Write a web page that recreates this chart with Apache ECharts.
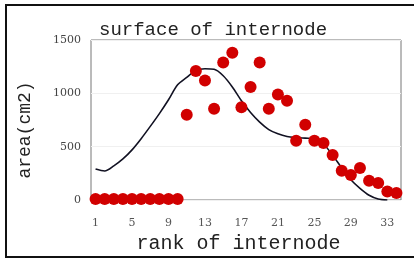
<!DOCTYPE html>
<html lang="en">
<head>
    <meta charset="UTF-8">
    <title>surface of internode</title>
    <script type="text/javascript" src="https://cdn.jsdelivr.net/npm/echarts@6/dist/echarts.min.js"></script>
</head>
<body style="margin:0;background:#fff;">
<div id="main" style="width: 415px;height: 260px;"></div>

<script type="text/javascript">

    // rank of internode 1..34
    var ranks = [];
    for (var i = 1; i <= 34; i++) ranks.push(String(i));

    // measured surface (red dots)
    var areaMeasured = [10, 10, 10, 10, 10, 10, 10, 10, 10, 10,
        800, 1210, 1120, 855, 1290, 1380, 870, 1060, 1290, 855,
        990, 930, 555, 705, 555, 535, 422, 275, 235, 300,
        180, 160, 80, 65];

    // fitted curve (black line)
    var areaCurve = [290, 272, 320, 385, 470, 575, 690, 810, 940, 1080,
        1150, 1215, 1230, 1225, 1165, 1060, 930, 820, 730, 660,
        620, 595, 585, 580, 575, 525, 420, 300, 190, 110,
        45, 10, 0, null];

    var yTicks = [0, 500, 1000, 1500];

    var chart = echarts.init(document.getElementById('main'));

    var option = {
        animation: false,
        backgroundColor: '#fff',
        title: {
            text: 'surface of internode',
            left: 94,
            top: 15,
            textStyle: {
                fontFamily: 'Liberation Mono',
                fontWeight: 'normal',
                fontSize: 19,
                color: '#222'
            }
        },
        graphic: [{
            type: 'polyline',
            shape: {points: [[414, 5], [6, 5], [6, 257], [414, 257]]},
            style: {stroke: '#111', lineWidth: 2, fill: null}
        }],
        grid: {
            left: 91,
            right: 14,
            top: 40,
            bottom: 60,
            show: true,
            borderColor: '#777',
            borderWidth: 1
        },
        xAxis: {
            type: 'category',
            data: ranks,
            boundaryGap: true,
            name: 'rank of internode',
            nameLocation: 'middle',
            nameGap: 32,
            nameTextStyle: {
                fontFamily: 'Liberation Mono',
                fontSize: 20,
                color: '#222',
                padding: [0, 15, 0, 0]
            },
            axisLine: {show: false},
            axisTick: {show: false},
            axisLabel: {
                interval: 3,
                margin: 18,
                fontFamily: 'DejaVu Serif',
                fontSize: 11,
                color: '#555'
            },
            splitLine: {show: false}
        },
        yAxis: {
            type: 'value',
            min: yTicks[0],
            max: yTicks[yTicks.length - 1],
            interval: 500,
            name: 'area(cm2)',
            nameLocation: 'middle',
            nameGap: 57,
            nameTextStyle: {
                fontFamily: 'Liberation Mono',
                fontSize: 18,
                color: '#222',
                padding: [0, 20, 0, 0]
            },
            axisLine: {show: false},
            axisTick: {show: false},
            axisLabel: {
                margin: 10,
                fontFamily: 'DejaVu Serif',
                fontSize: 11,
                color: '#444',
                formatter: function (v) { return String(v); }
            },
            splitLine: {lineStyle: {color: '#f0f0f0'}}
        },
        series: [
            {
                name: 'curve',
                type: 'line',
                data: areaCurve,
                smooth: 0.3,
                showSymbol: false,
                lineStyle: {color: '#111122', width: 1.6},
                z: 3
            },
            {
                name: 'measured',
                type: 'scatter',
                data: areaMeasured,
                symbolSize: 12,
                itemStyle: {color: '#d10000', opacity: 1},
                z: 4
            }
        ]
    };

    chart.setOption(option);
</script>
</body>
</html>
